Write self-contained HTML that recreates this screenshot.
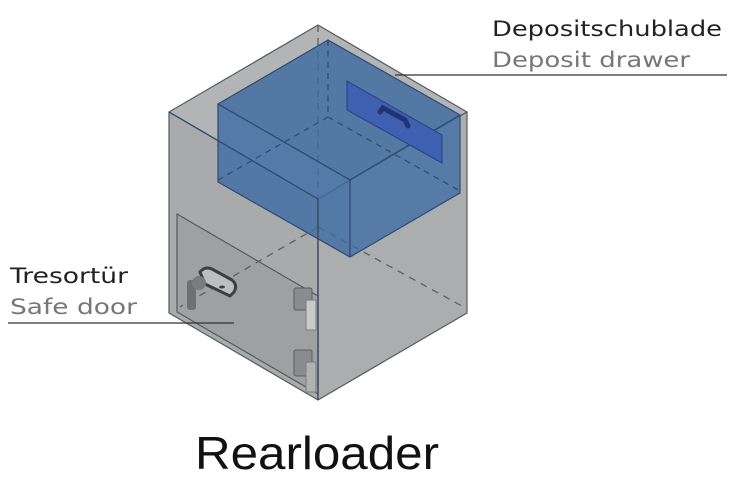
<!DOCTYPE html>
<html><head><meta charset="utf-8"><style>body{margin:0;background:#fff}svg{display:block}</style></head>
<body>
<svg width="739" height="488" viewBox="0 0 739 488" xmlns="http://www.w3.org/2000/svg">
<g stroke="#555a60" stroke-width="1.2" stroke-linejoin="round">
<polygon points="318,25 169,112 318,199 467,112" fill="#b3b4b6"/>
<polygon points="169,112 318,199 318,400 169,313" fill="#a9aaac"/>
<polygon points="318,199 467,112 467,313 318,400" fill="#acadaf"/>
<polygon points="177,214 318,296 318,394 177,312" fill="#9fa0a2"/>
</g>
<g stroke="#5c6066" stroke-width="1.3" stroke-dasharray="7,6" fill="none">
<line x1="318" y1="25" x2="318" y2="227"/>
<line x1="318" y1="227" x2="180" y2="307"/>
<line x1="318" y1="227" x2="462" y2="306"/>
</g>
<!-- drawer -->
<g stroke="#2f4a6e" stroke-width="1.2" stroke-linejoin="round">
<polygon points="328,40 218,104 350,180 460,115" fill="rgba(60,105,160,0.8)"/>
<polygon points="218,104 350,180 350,257 218,182" fill="rgba(62,108,165,0.8)"/>
<polygon points="350,180 460,115 460,193 350,257" fill="rgba(65,110,165,0.8)"/>
</g>
<g stroke="#2f4a6e" stroke-width="1.2" stroke-dasharray="6,5" fill="none">
<line x1="328" y1="40" x2="328" y2="117"/>
<line x1="328" y1="117" x2="218" y2="180"/>
<line x1="328" y1="117" x2="460" y2="191"/>
</g>
<line x1="169" y1="112" x2="318" y2="199" stroke="#2f4a6e" stroke-width="1.2"/>
<line x1="318" y1="199" x2="318" y2="400" stroke="#3a4150" stroke-width="1.2"/>
<polygon points="347,81 442,135 442,163 347,110" fill="#3f5fb0" stroke="#2b3e80" stroke-width="1"/>
<path d="M380,112 L383,108 L405,120 L408,126" stroke="#1f3470" stroke-width="5" fill="none" stroke-linecap="round"/>
<!-- lock -->
<path d="M200,272 Q205,266 212,269 L232,280 Q238,285 234,292 L230,296 L205,284 Z" fill="#bdbec0" stroke="#3d3f43" stroke-width="3"/>
<ellipse cx="222" cy="287" rx="3" ry="1.5" fill="#3d3f43"/>
<rect x="187" y="280" width="9" height="30" rx="3" fill="#6e7074"/>
<circle cx="199" cy="283" r="7" fill="#7a7c80"/>
<!-- hinges -->
<rect x="294" y="288" width="18" height="22" rx="2" fill="#8a8c90" stroke="#5a5c60"/>
<rect x="306" y="300" width="10" height="30" fill="#c8c9cb" stroke="#7a7c80"/>
<rect x="294" y="350" width="18" height="26" rx="2" fill="#8a8c90" stroke="#5a5c60"/>
<rect x="306" y="362" width="10" height="30" fill="#b0b1b3" stroke="#7a7c80"/>
<!-- leaders -->
<line x1="395" y1="75" x2="727" y2="75" stroke="#333" stroke-width="1.2"/>
<line x1="8" y1="323" x2="234" y2="323" stroke="#333" stroke-width="1.2"/>
<g font-family="DejaVu Sans, Liberation Sans, sans-serif" font-size="21">
<text x="492" y="36" fill="#222" textLength="230" lengthAdjust="spacingAndGlyphs">Depositschublade</text>
<text x="492" y="67" fill="#777" textLength="198" lengthAdjust="spacingAndGlyphs">Deposit drawer</text>
<text x="10" y="283" fill="#222" textLength="118" lengthAdjust="spacingAndGlyphs">Tresortür</text>
<text x="10" y="314" fill="#777" textLength="127" lengthAdjust="spacingAndGlyphs">Safe door</text>
</g>
<text x="317" y="469" text-anchor="middle" font-family="Liberation Sans, sans-serif" font-size="46" fill="#111" textLength="244" lengthAdjust="spacingAndGlyphs">Rearloader</text>
</svg>
</body></html>
